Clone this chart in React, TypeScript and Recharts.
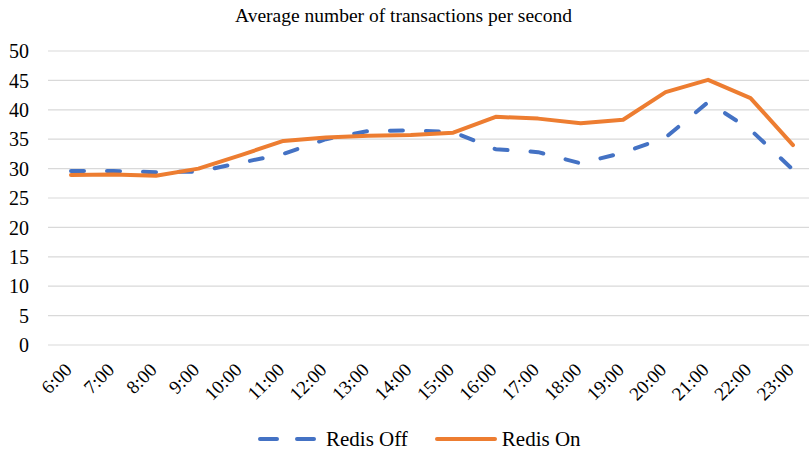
import { LineChart, Line, XAxis, YAxis, CartesianGrid, Legend } from "recharts";

const hours = [
  "6:00", "7:00", "8:00", "9:00", "10:00", "11:00", "12:00", "13:00", "14:00",
  "15:00", "16:00", "17:00", "18:00", "19:00", "20:00", "21:00", "22:00", "23:00",
];
const redisOff = [29.6, 29.6, 29.4, 29.5, 31.0, 32.5, 35.0, 36.4, 36.5, 36.2, 33.3, 32.8, 30.9, 32.7, 35.3, 41.3, 36.6, 29.8];
const redisOn = [28.9, 29.0, 28.8, 30.0, 32.3, 34.7, 35.3, 35.6, 35.7, 36.1, 38.8, 38.5, 37.7, 38.3, 43.0, 45.1, 42.0, 34.0];
const yTicks = [0, 5, 10, 15, 20, 25, 30, 35, 40, 45, 50];

const data = hours.map((h, i) => ({ hour: h, off: redisOff[i], on: redisOn[i] }));

const FONT = '"Liberation Serif", "Times New Roman", serif';
const BLUE = "#4472C4";
const ORANGE = "#ED7D31";

function HourTick({ x, y, payload }: any) {
  return (
    <g transform={`translate(${x + 2},${y + 26})`}>
      <text textAnchor="end" transform="rotate(-45)" style={{ fontSize: 19, fontFamily: FONT }} fill="#000">
        {payload.value}
      </text>
    </g>
  );
}

function ChartLegend() {
  return (
    <div
      style={{
        height: 30,
        display: "flex",
        alignItems: "center",
        paddingLeft: 258,
        fontFamily: FONT,
        fontSize: 21,
        color: "#000",
      }}
    >
      <svg width={62} height={10} style={{ marginRight: 6 }}>
        <line x1={2} y1={5} x2={60} y2={5} stroke={BLUE} strokeWidth={4} strokeDasharray="17 20" strokeLinecap="round" />
      </svg>
      <span style={{ marginRight: 27 }}>Redis Off</span>
      <svg width={62} height={10} style={{ marginRight: 5 }}>
        <line x1={2} y1={5} x2={60} y2={5} stroke={ORANGE} strokeWidth={4} strokeLinecap="round" />
      </svg>
      <span>Redis On</span>
    </div>
  );
}

export default function App() {
  return (
    <div
      style={{
        position: "absolute",
        left: 0,
        top: 0,
        width: 809,
        height: 454,
        background: "#fff",
        fontFamily: FONT,
      }}
    >
      <LineChart
        width={809}
        height={454}
        data={data}
        margin={{ top: 51, right: 0, bottom: 0, left: 0 }}
        style={{ fontFamily: FONT }}
      >
        <CartesianGrid vertical={false} stroke="#d9d9d9" strokeWidth={1.2} />
        <XAxis
          dataKey="hour"
          axisLine={false}
          tickLine={false}
          tickSize={0}
          tickMargin={0}
          height={79}
          interval={0}
          padding={{ left: 23, right: 16 }}
          tick={<HourTick />}
        />
        <YAxis
          domain={[0, 50]}
          ticks={yTicks}
          width={48}
          axisLine={false}
          tickLine={false}
          tickSize={0}
          tickMargin={19}
          tick={{ fontSize: 20, fontFamily: FONT, fill: "#000" }}
        />
        <Legend verticalAlign="bottom" content={() => <ChartLegend />} />
        <Line
          type="linear"
          dataKey="off"
          name="Redis Off"
          stroke={BLUE}
          strokeWidth={4}
          strokeDasharray="13 23"
          strokeLinecap="round"
          strokeLinejoin="round"
          dot={false}
          activeDot={false}
          isAnimationActive={false}
        />
        <Line
          type="linear"
          dataKey="on"
          name="Redis On"
          stroke={ORANGE}
          strokeWidth={4}
          strokeLinecap="round"
          strokeLinejoin="round"
          dot={false}
          activeDot={false}
          isAnimationActive={false}
        />
      </LineChart>
      <svg width={809} height={40} style={{ position: "absolute", left: 0, top: 0, pointerEvents: "none" }}>
        <text x={403.5} y={22} textAnchor="middle" style={{ fontSize: 19.5, fontFamily: FONT }} fill="#000">
          Average number of transactions per second
        </text>
      </svg>
    </div>
  );
}
